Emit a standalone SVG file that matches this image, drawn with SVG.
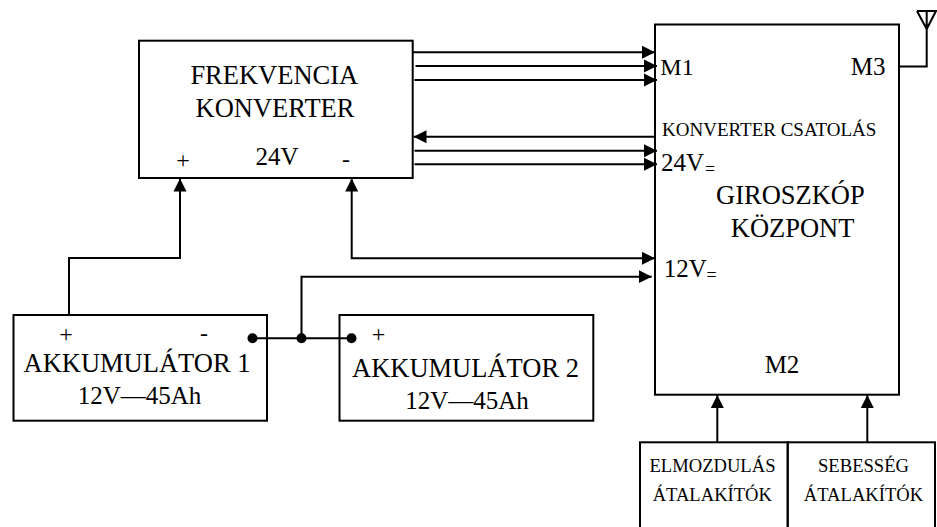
<svg xmlns="http://www.w3.org/2000/svg" width="937" height="527" viewBox="0 0 937 527">
<style>
text{font-family:"Liberation Serif","Times New Roman",serif;fill:#000;text-anchor:middle;font-size:26.500px}
.st{text-anchor:start}
.v{font-size:25px}.p{font-size:24px}.k{font-size:19px}.t{font-size:18.600px}.e{font-size:18px}
.box,.w{fill:none;stroke:#000;stroke-width:2}
.a{fill:#000}
circle{fill:#000}
</style>
<defs>
<marker id="ah" markerUnits="userSpaceOnUse" markerWidth="13" markerHeight="14" refX="13" refY="7" orient="auto-start-reverse"><path class="a" d="M0 0.500L13 7L0 13.500Z"/></marker>
</defs>
<rect width="937" height="527" fill="#fff"/>
<g id="connectors">
<path class="w" marker-end="url(#ah)" d="M412.500 52.300H655"/>
<path class="w" marker-end="url(#ah)" d="M415.500 66H657"/>
<path class="w" marker-end="url(#ah)" d="M414.500 80H657"/>
<path class="w" marker-end="url(#ah)" d="M655 136.700H413.500"/>
<path class="w" marker-end="url(#ah)" d="M414.500 150.700H657"/>
<path class="w" marker-end="url(#ah)" d="M414.500 164.300H657"/>
<path class="w" marker-end="url(#ah)" d="M69 315V258H180V178.500"/>
<path class="w" marker-start="url(#ah)" marker-end="url(#ah)" d="M351.700 178.500V258.300H655"/>
<path class="w" marker-end="url(#ah)" d="M301.500 338.300V276.700H651.700"/>
<path class="w" d="M252 338.300H351.500"/>
<path class="w" marker-end="url(#ah)" d="M717.300 442.300V395"/>
<path class="w" marker-end="url(#ah)" d="M867.300 442.300V395"/>
<path class="w" d="M899 66.500H926.700V11M917 11H936L926.700 29L917 11"/>
<circle cx="252.500" cy="338.300" r="5"/>
<circle cx="301.500" cy="338.300" r="5"/>
<circle cx="351.500" cy="338.300" r="5"/>
</g>
<g id="frekvencia-konverter">
<rect class="box" x="139" y="40.700" width="273.700" height="137.300"/>
<text x="274.300" y="84">FREKVENCIA</text>
<text x="275" y="117">KONVERTER</text>
<text class="p" x="183" y="168">+</text>
<text class="v" x="277" y="165">24V</text>
<text class="p" x="346" y="167">-</text>
</g>
<g id="giroszkop-kozpont">
<rect class="box" x="655" y="24.500" width="244" height="370.200"/>
<text class="p st" x="660.300" y="75">M1</text>
<text class="v st" x="850.700" y="75">M3</text>
<text class="k st" x="662" y="136">KONVERTER CSATOLÁS</text>
<text class="v st" x="661" y="171">24V</text>
<text class="e st" x="705" y="175">=</text>
<text x="790.400" y="204">GIROSZKÓP</text>
<text x="792.600" y="236.700">KÖZPONT</text>
<text class="v st" x="663.700" y="276.700">12V</text>
<text class="e st" x="706.500" y="280.500">=</text>
<text class="v" x="782" y="373">M2</text>
</g>
<g id="akkumulator-1">
<rect class="box" x="13.500" y="315" width="253.500" height="105.700"/>
<text class="p" x="66" y="341.500">+</text>
<text class="p" x="204" y="341">-</text>
<text x="137" y="372.300">AKKUMULÁTOR 1</text>
<text class="v" x="139.500" y="404">12V—45Ah</text>
</g>
<g id="akkumulator-2">
<rect class="box" x="339.500" y="315" width="253.800" height="105.700"/>
<text class="p" x="378.600" y="341.500">+</text>
<text x="465.500" y="376.700">AKKUMULÁTOR 2</text>
<text class="v" x="467" y="409">12V—45Ah</text>
</g>
<g id="elmozdulas-atalakitok">
<rect class="box" x="640" y="442.300" width="147.700" height="90"/>
<text class="t" x="712.500" y="471.700">ELMOZDULÁS</text>
<text class="t" x="712.300" y="500.700">ÁTALAKÍTÓK</text>
</g>
<g id="sebesseg-atalakitok">
<rect class="box" x="787.700" y="442.300" width="147.300" height="90"/>
<text class="t" x="863.500" y="471.700">SEBESSÉG</text>
<text class="t" x="863.500" y="500.700">ÁTALAKÍTÓK</text>
</g>
</svg>
